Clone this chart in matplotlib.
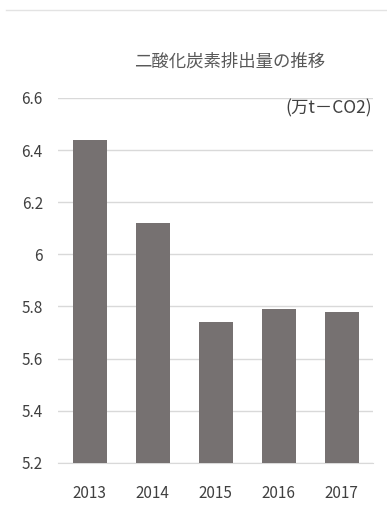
import matplotlib
matplotlib.use("Agg")
import matplotlib.pyplot as plt
from matplotlib.lines import Line2D

# data
years = ["2013", "2014", "2015", "2016", "2017"]
emissions = [6.44, 6.12, 5.74, 5.79, 5.78]
yticks = [5.2, 5.4, 5.6, 5.8, 6.0, 6.2, 6.4, 6.6]
ytick_labels = ["5.2", "5.4", "5.6", "5.8", "6", "6.2", "6.4", "6.6"]

TITLE = "二酸化炭素排出量の推移"
UNIT = "(万t－CO2)"

BAR = "#767171"
GRID = "#d9d9d9"
TXT = "#404040"

plt.rcParams["font.family"] = ["Liberation Sans Narrow", "Noto Sans CJK JP", "DejaVu Sans"]

fig = plt.figure(figsize=(3.87, 5.15), dpi=100)
ax = fig.add_axes([0.150, 0.101, 0.814, 0.709])

x = range(len(years))
ax.bar(x, emissions, width=0.54, color=BAR, zorder=3)

ax.set_xlim(-0.5, len(years) - 0.5)
ax.set_ylim(5.2, 6.6)
ax.set_yticks(yticks)
ax.set_yticklabels(ytick_labels)
ax.set_xticks(list(x))
ax.set_xticklabels(years)
ax.grid(axis="y", color=GRID, lw=1, zorder=0)

for s in ("top", "right", "left"):
    ax.spines[s].set_visible(False)
ax.spines["bottom"].set_color(GRID)
ax.tick_params(axis="both", length=0, labelsize=11, colors=TXT)
ax.tick_params(axis="y", pad=11)
ax.tick_params(axis="x", pad=16)

fig.text(0.592, 0.880, TITLE, ha="center", va="center", fontsize=12.5,
         color="#595959", family=["Noto Sans CJK JP", "DejaVu Sans"])
fig.text(0.962, 0.790, UNIT, ha="right", va="center", fontsize=12.5,
         color=TXT, family=["Noto Sans CJK JP", "DejaVu Sans"])

# faint rule across the top of the image
fig.add_artist(Line2D([0.015, 1.0], [0.981, 0.981], color="#e3e3e3", lw=1))

fig.savefig("out.png", dpi=100)
